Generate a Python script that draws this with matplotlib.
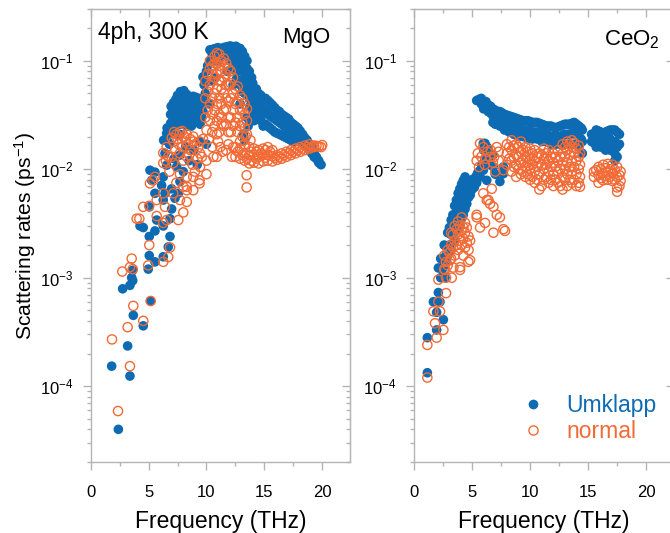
import matplotlib
matplotlib.use("Agg")
import matplotlib.pyplot as plt
from matplotlib.ticker import MultipleLocator, LogLocator, NullFormatter, FixedLocator
from matplotlib.lines import Line2D

plt.rcParams['font.family'] = ['Liberation Sans', 'DejaVu Sans']
plt.rcParams['mathtext.fontset'] = 'custom'
plt.rcParams['mathtext.rm'] = 'Liberation Sans'
plt.rcParams['mathtext.it'] = 'Liberation Sans:italic'
plt.rcParams['mathtext.default'] = 'regular'

BLUE = '#0C6BB2'
ORANGE = '#F26A35'
GRAY = '#B4B4B4'

# ---------------- data (frequency THz, rate 1/ps) ----------------
mgo_umklapp = [
    (1.81, 1.53e-4), (2.39, 4.0e-5), (2.76, 7.9e-4), (3.19, 2.35e-4), (3.39, 1.24e-4), (3.39, 8.5e-4),
    (3.63, 9.4e-4), (3.63, 1.17e-3), (3.68, 4.5e-4), (4.54, 3.6e-4), (4.97, 1.2e-3), (5.18, 6.1e-4),
    (5.55, 1.4e-3), (3.54, 1.0e-3), (5.06, 1.6e-3), (6.27, 1.56e-3), (6.70, 1.92e-3), (6.85, 2.4e-3),
    (5.06, 2.4e-3), (5.55, 2.7e-3), (6.27, 3.0e-3), (4.26, 3.0e-3), (4.54, 2.9e-3), (5.70, 3.4e-3),
    (6.85, 3.5e-3), (5.06, 4.5e-3), (6.99, 4.3e-3), (6.27, 5.2e-3), (7.28, 5.4e-3), (5.55, 6.0e-3),
    (6.42, 6.0e-3), (7.57, 6.0e-3), (6.13, 7.1e-3), (6.99, 6.6e-3), (5.27, 7.9e-3), (5.55, 9.4e-3),
    (6.27, 8.5e-3), (7.71, 7.7e-3), (6.56, 1.09e-2), (7.43, 1.05e-2), (7.71, 1.35e-2), (6.42, 1.4e-2),
    (5.12, 9.8e-3), (6.56, 2.14e-2), (6.99, 2.14e-2), (7.13, 2.46e-2), (7.71, 2.1e-2), (8.2, 1.6e-2),
    (8.9, 1.5e-2), (9.4, 1.8e-2), (10.0, 1.7e-2), (8.5, 1.2e-2), (9.2, 1.1e-2), (6.3, 1.85e-2),
    (6.8, 1.7e-2), (7.2, 1.25e-2), (8.0, 9.5e-3), (6.6, 2.4e-2), (6.6, 1.85e-2), (6.9, 2.2e-2),
    (6.9, 2.65e-2), (6.9, 3.2e-2), (6.95, 3.8e-2), (7.3, 2.8e-2), (7.3, 3.5e-2), (7.35, 4.4e-2),
    (7.7, 2.6e-2), (7.7, 3.3e-2), (7.7, 4.2e-2), (7.75, 5.2e-2), (8.1, 2.7e-2), (8.1, 3.4e-2),
    (8.1, 4.3e-2), (8.05, 5.3e-2), (8.5, 2.8e-2), (8.5, 3.6e-2), (8.5, 4.6e-2), (8.9, 2.7e-2),
    (8.9, 3.4e-2), (8.9, 4.3e-2), (8.85, 4.7e-2), (9.3, 2.8e-2), (9.3, 3.6e-2), (9.3, 4.5e-2),
    (9.6, 3.0e-2), (9.6, 3.8e-2), (9.5, 4.3e-2), (7.1, 3.0e-2), (7.5, 3.1e-2), (7.5, 3.9e-2),
    (7.5, 4.8e-2), (7.9, 2.9e-2), (7.9, 3.7e-2), (7.9, 4.7e-2), (8.3, 3.1e-2), (8.3, 3.9e-2),
    (8.3, 4.9e-2), (8.7, 3.1e-2), (8.7, 3.9e-2), (8.7, 4.5e-2), (9.1, 3.1e-2), (9.1, 3.9e-2),
    (9.1, 4.6e-2), (9.45, 3.3e-2), (9.45, 2.6e-2), (8.7, 2.5e-2), (8.3, 2.5e-2), (9.7, 3.4e-2),
    (9.8, 4.5e-2), (7.1, 3.5e-2), (7.15, 4.1e-2),
    (9.7, 7.1e-2), (9.9, 5.0e-2), (10.0, 8.0e-2), (10.3, 1.26e-1), (10.3, 1.0e-1), (10.3, 6.5e-2),
    (10.3, 4.0e-2), (10.8, 1.3e-1), (10.8, 1.0e-1), (10.8, 7.0e-2), (11.3, 1.3e-1), (11.3, 1.1e-1),
    (11.8, 1.35e-1), (11.8, 1.1e-1), (11.8, 8.0e-2), (12.3, 1.35e-1), (12.3, 1.15e-1), (12.3, 9.0e-2),
    (12.3, 6.0e-2), (12.9, 1.3e-1), (12.9, 1.1e-1), (12.9, 8.5e-2), (12.9, 6.0e-2), (12.9, 4.0e-2),
    (13.3, 1.1e-1), (13.3, 9.0e-2), (13.3, 7.0e-2), (13.3, 5.0e-2), (13.7, 8.0e-2), (13.7, 6.0e-2),
    (13.7, 4.5e-2), (14.0, 6.2e-2), (13.5, 5.4e-2), (13.75, 3.8e-2), (13.5, 3.0e-2), (13.2, 2.1e-2),
    (13.3, 1.85e-2), (13.6, 2.5e-2), (10.5, 1.15e-1), (10.6, 1.28e-1), (11.0, 1.32e-1), (11.0, 1.15e-1),
    (11.55, 1.33e-1), (11.55, 1.2e-1), (12.05, 1.37e-1), (12.05, 1.22e-1), (12.05, 1.0e-1),
    (12.55, 1.36e-1), (12.55, 1.22e-1), (12.55, 1.02e-1), (12.55, 8.0e-2), (12.6, 6.8e-2),
    (13.1, 1.22e-1), (13.1, 1.0e-1), (13.1, 8.0e-2), (13.1, 6.5e-2), (13.1, 5.2e-2), (13.5, 1.0e-1),
    (13.5, 8.5e-2), (13.5, 6.5e-2), (13.9, 7.0e-2), (13.9, 5.5e-2), (14.1, 5.0e-2), (12.9, 9.5e-2),
    (13.3, 1.0e-1), (13.7, 7.0e-2), (12.7, 1.15e-1), (11.05, 1.0e-1), (9.8, 6.0e-2), (10.05, 6.5e-2),
    (10.1, 9.0e-2),
    (14.3, 5.5e-2), (14.3, 4.2e-2), (14.3, 3.2e-2), (14.7, 4.8e-2), (14.7, 3.8e-2), (14.7, 2.8e-2),
    (15.1, 4.5e-2), (15.1, 3.5e-2), (15.1, 2.6e-2), (15.5, 4.1e-2), (15.5, 3.1e-2), (15.5, 2.4e-2),
    (15.9, 3.7e-2), (15.9, 2.9e-2), (15.9, 2.2e-2), (16.3, 3.4e-2), (16.3, 2.7e-2), (16.3, 2.1e-2),
    (16.7, 3.1e-2), (16.7, 2.5e-2), (16.7, 2.0e-2), (17.1, 2.9e-2), (17.1, 2.3e-2), (17.1, 1.9e-2),
    (17.5, 2.6e-2), (17.5, 2.1e-2), (17.5, 1.8e-2), (17.9, 2.4e-2), (17.9, 1.9e-2), (18.3, 2.1e-2),
    (18.3, 1.7e-2), (18.7, 1.85e-2), (18.7, 1.6e-2), (19.1, 1.6e-2), (19.1, 1.4e-2), (19.5, 1.3e-2),
    (19.5, 1.25e-2), (19.9, 1.1e-2), (14.5, 5.0e-2), (14.5, 3.7e-2), (14.5, 3.0e-2), (14.9, 4.2e-2),
    (14.9, 3.2e-2), (14.9, 2.5e-2), (15.3, 4.3e-2), (15.3, 3.3e-2), (15.3, 2.5e-2), (15.7, 3.9e-2),
    (15.7, 3.0e-2), (15.7, 2.3e-2), (16.1, 3.5e-2), (16.1, 2.8e-2), (16.1, 2.15e-2), (16.5, 3.2e-2),
    (16.5, 2.6e-2), (16.5, 2.05e-2), (16.9, 3.0e-2), (16.9, 2.4e-2), (16.9, 1.95e-2), (17.3, 2.7e-2),
    (17.3, 2.2e-2), (17.3, 1.85e-2), (17.7, 2.5e-2), (17.7, 2.0e-2), (18.1, 2.25e-2), (18.1, 1.8e-2),
    (18.5, 1.95e-2), (18.5, 1.65e-2), (18.9, 1.7e-2), (18.9, 1.5e-2), (19.3, 1.45e-2), (19.3, 1.3e-2),
    (19.7, 1.2e-2), (19.7, 1.15e-2), (14.3, 3.7e-2), (14.0, 3.3e-2), (14.1, 2.8e-2),
]

mgo_normal = [
    (1.84, 2.7e-4), (2.36, 5.9e-5), (2.73, 1.14e-3), (3.19, 3.5e-4), (3.39, 1.53e-4), (3.39, 1.25e-3),
    (3.68, 5.5e-4), (3.63, 1.2e-3), (4.54, 4.0e-4), (4.97, 1.3e-3), (5.18, 6.1e-4), (6.27, 1.4e-3),
    (3.54, 1.5e-3), (4.2, 3.5e-3), (5.06, 4.6e-3), (5.7, 3.7e-3), (5.06, 2.0e-3), (6.85, 1.9e-3),
    (6.7, 1.55e-3), (6.56, 3.4e-3), (7.57, 3.4e-3), (8.0, 4.0e-3), (8.3, 5.0e-3), (7.71, 5.2e-3),
    (6.27, 6.0e-3), (8.3, 6.9e-3), (8.86, 6.4e-3), (5.55, 8.5e-3), (5.12, 7.4e-3), (6.27, 1.14e-2),
    (9.4, 7.9e-3), (6.27, 3.2e-3), (6.42, 4.5e-3), (7.13, 6.0e-3), (8.0, 6.9e-3), (8.3, 8.5e-3),
    (9.44, 1.05e-2), (10.0, 1.2e-2), (3.97, 3.5e-3), (4.54, 4.5e-3), (5.4, 7.9e-3), (5.7, 5.2e-3),
    (6.27, 1.41e-2), (6.56, 1.6e-2), (7.13, 1.8e-2), (7.71, 2.2e-2), (8.3, 2.1e-2), (8.86, 2.0e-2),
    (9.44, 1.8e-2), (10.0, 2.3e-2), (10.9, 2.1e-2), (7.13, 1.14e-2), (8.3, 1.3e-2), (9.44, 1.4e-2),
    (7.71, 9.0e-3), (8.86, 8.5e-3), (8.3, 6.4e-3), (9.4, 7.4e-3), (10.0, 9.0e-3), (10.6, 1.3e-2),
    (11.7, 1.5e-2), (12.3, 1.6e-2), (11.2, 1.6e-2), (7.5, 1.9e-2), (7.9, 1.6e-2), (8.2, 1.8e-2),
    (8.6, 1.5e-2), (9.0, 1.7e-2), (7.3, 1.5e-2), (8.0, 1.2e-2), (8.8, 1.1e-2), (9.6, 1.3e-2),
    (7.0, 1.3e-2), (6.8, 9.5e-3), (7.4, 7.5e-3), (9.0, 9.5e-3), (7.9, 2.25e-2), (8.6, 1.9e-2),
    (7.6, 1.7e-2), (10.9, 1.3e-2), (11.4, 1.45e-2), (11.9, 1.7e-2), (12.2, 1.3e-2), (10.5, 1.6e-2),
    (11.0, 1.8e-2), (10.2, 1.9e-2), (7.4, 2.1e-2), (8.1, 2.0e-2), (8.4, 1.7e-2), (8.9, 1.8e-2),
    (9.3, 1.6e-2), (9.7, 1.9e-2), (7.7, 1.4e-2), (8.5, 1.35e-2), (9.2, 1.25e-2), (7.2, 2.2e-2),
    (7.0, 1.95e-2), (6.7, 1.3e-2), (6.5, 1.2e-2),
    (9.9, 3.0e-2), (9.9, 4.5e-2), (9.9, 6.5e-2), (10.3, 2.8e-2), (10.3, 4.0e-2), (10.3, 6.0e-2),
    (10.3, 8.5e-2), (10.3, 1.0e-1), (10.7, 2.5e-2), (10.7, 3.5e-2), (10.7, 5.0e-2), (10.7, 7.0e-2),
    (10.7, 9.5e-2), (10.7, 1.1e-1), (11.1, 2.2e-2), (11.1, 3.2e-2), (11.1, 4.5e-2), (11.1, 6.5e-2),
    (11.1, 9.0e-2), (11.1, 1.15e-1), (11.5, 2.5e-2), (11.5, 3.5e-2), (11.5, 5.0e-2), (11.5, 7.0e-2),
    (11.5, 9.0e-2), (11.5, 1.05e-1), (11.9, 2.2e-2), (11.9, 3.0e-2), (11.9, 4.2e-2), (11.9, 6.0e-2),
    (11.9, 8.5e-2), (12.3, 2.5e-2), (12.3, 3.5e-2), (12.3, 5.0e-2), (12.3, 7.0e-2), (12.7, 2.2e-2),
    (12.7, 3.0e-2), (12.7, 4.2e-2), (12.7, 5.8e-2), (13.1, 2.0e-2), (13.1, 2.7e-2), (13.1, 3.6e-2),
    (13.1, 4.5e-2), (13.5, 2.1e-2), (13.5, 2.8e-2), (13.5, 3.6e-2), (10.5, 7.5e-2), (10.9, 5.5e-2),
    (11.3, 8.0e-2), (11.7, 6.0e-2), (11.3, 4.0e-2), (12.1, 4.5e-2), (10.9, 1.18e-1), (11.3, 1.0e-1),
    (10.1, 3.5e-2), (10.1, 5.2e-2), (10.1, 7.5e-2), (10.5, 3.2e-2), (10.5, 4.5e-2), (10.5, 6.5e-2),
    (10.5, 9.0e-2), (10.5, 2.2e-2), (10.9, 2.8e-2), (10.9, 4.0e-2), (10.9, 7.5e-2), (10.9, 9.5e-2),
    (11.3, 2.6e-2), (11.3, 3.0e-2), (11.3, 5.5e-2), (11.3, 6.5e-2), (11.7, 2.6e-2), (11.7, 3.6e-2),
    (11.7, 4.5e-2), (11.7, 7.5e-2), (11.7, 9.5e-2), (12.1, 2.2e-2), (12.1, 3.0e-2), (12.1, 6.2e-2),
    (12.1, 8.0e-2), (12.5, 2.7e-2), (12.5, 4.0e-2), (12.5, 5.5e-2), (12.9, 2.5e-2), (12.9, 3.5e-2),
    (12.9, 4.8e-2), (13.3, 2.4e-2), (13.3, 3.2e-2), (13.3, 4.0e-2),
    (12.5, 1.3e-2), (12.5, 1.6e-2), (12.9, 1.25e-2), (12.9, 1.55e-2), (12.9, 1.8e-2), (13.3, 1.2e-2),
    (13.3, 1.4e-2), (13.3, 1.7e-2), (13.47, 8.8e-3), (13.47, 6.8e-3), (13.7, 1.13e-2), (13.7, 1.35e-2),
    (13.7, 1.6e-2), (14.1, 1.15e-2), (14.1, 1.35e-2), (14.1, 1.55e-2), (14.5, 1.13e-2), (14.5, 1.3e-2),
    (14.5, 1.5e-2), (14.9, 1.18e-2), (14.9, 1.35e-2), (14.9, 1.55e-2), (15.3, 1.2e-2), (15.3, 1.35e-2),
    (15.3, 1.6e-2), (15.7, 1.18e-2), (15.7, 1.32e-2), (15.7, 1.5e-2), (16.1, 1.22e-2), (16.1, 1.35e-2),
    (16.5, 1.25e-2), (16.5, 1.4e-2), (16.9, 1.3e-2), (16.9, 1.45e-2), (17.3, 1.35e-2), (17.3, 1.5e-2),
    (17.7, 1.4e-2), (17.7, 1.55e-2), (18.1, 1.45e-2), (18.1, 1.6e-2), (18.5, 1.5e-2), (18.5, 1.65e-2),
    (18.9, 1.55e-2), (18.9, 1.7e-2), (19.3, 1.6e-2), (19.3, 1.65e-2), (19.7, 1.62e-2), (20.0, 1.67e-2),
    (13.4, 2.0e-2), (13.8, 1.85e-2), (12.7, 1.45e-2), (13.1, 1.35e-2), (13.5, 1.25e-2), (13.9, 1.45e-2),
    (14.3, 1.25e-2), (14.7, 1.4e-2), (15.1, 1.28e-2), (15.5, 1.45e-2), (15.9, 1.28e-2), (16.3, 1.3e-2),
    (16.7, 1.35e-2), (17.1, 1.4e-2), (17.5, 1.45e-2), (17.9, 1.5e-2), (18.3, 1.55e-2), (18.7, 1.6e-2),
    (19.1, 1.62e-2), (19.5, 1.64e-2), (19.9, 1.6e-2), (14.3, 1.45e-2), (15.1, 1.5e-2), (13.9, 1.2e-2),
]

ceo2_umklapp = [
    (1.15, 2.8e-4), (1.15, 1.33e-4), (1.95, 3.3e-4), (2.53, 4.1e-4), (1.67, 6.0e-4), (2.1, 7.3e-4),
    (2.24, 6.0e-4), (1.95, 4.8e-4), (2.1, 1.23e-3), (2.67, 1.0e-3), (2.82, 1.4e-3),
    (2.3, 1.0e-3), (2.3, 1.5e-3), (2.6, 1.3e-3), (2.6, 2.0e-3), (2.9, 1.6e-3), (2.9, 2.6e-3),
    (3.2, 1.8e-3), (3.2, 2.5e-3), (3.2, 3.4e-3), (3.5, 2.2e-3), (3.5, 3.2e-3), (3.5, 4.6e-3),
    (3.8, 2.8e-3), (3.8, 4.0e-3), (3.8, 6.0e-3), (4.1, 3.5e-3), (4.1, 5.0e-3), (4.1, 7.3e-3),
    (4.4, 4.3e-3), (4.4, 6.2e-3), (4.4, 8.5e-3), (4.7, 5.5e-3), (4.7, 7.0e-3), (5.0, 6.5e-3),
    (5.0, 8.0e-3), (5.4, 7.5e-3), (5.4, 8.8e-3), (5.7, 8.5e-3), (5.7, 9.8e-3),
    (2.45, 1.2e-3), (2.75, 1.6e-3), (3.05, 2.0e-3), (3.05, 2.9e-3), (3.35, 2.6e-3), (3.35, 3.8e-3),
    (3.65, 3.4e-3), (3.65, 5.2e-3), (3.95, 4.3e-3), (3.95, 6.6e-3), (4.25, 5.6e-3), (4.25, 7.9e-3),
    (4.55, 6.6e-3), (4.85, 7.5e-3), (5.2, 8.2e-3), (3.95, 3.0e-3), (4.25, 3.8e-3), (4.55, 4.8e-3),
    (4.85, 5.8e-3), (5.2, 6.8e-3), (5.5, 9.3e-3), (5.85, 1.1e-2), (6.1, 1.25e-2), (6.4, 1.45e-2),
    (5.97, 9.8e-3), (6.27, 1.3e-2), (5.97, 1.73e-2), (6.27, 7.9e-3), (7.4, 7.7e-3), (7.7, 9.1e-3),
    (6.0, 1.5e-2), (6.5, 1.1e-2), (7.0, 9.0e-3), (6.12, 1.73e-2), (6.55, 1.3e-2), (6.84, 1.05e-2),
    (7.7, 1.05e-2), (6.3, 1.6e-2), (6.8, 1.35e-2),
    (5.4, 4.3e-2), (5.8, 4.5e-2), (5.8, 4.0e-2), (6.2, 4.2e-2), (6.2, 3.7e-2), (6.6, 3.8e-2),
    (6.6, 3.3e-2), (7.0, 3.5e-2), (7.0, 3.0e-2), (7.0, 2.6e-2), (7.4, 3.4e-2), (7.4, 2.9e-2),
    (7.4, 2.5e-2), (7.8, 3.2e-2), (7.8, 2.7e-2), (7.8, 2.3e-2), (8.2, 3.1e-2), (8.2, 2.6e-2),
    (8.2, 2.2e-2), (8.6, 3.0e-2), (8.6, 2.5e-2), (8.6, 2.1e-2), (9.0, 2.9e-2), (9.0, 2.4e-2),
    (9.0, 2.0e-2), (9.4, 2.8e-2), (9.4, 2.3e-2), (9.4, 2.0e-2), (9.8, 2.8e-2), (9.8, 2.3e-2),
    (9.8, 1.9e-2), (10.2, 2.7e-2), (10.2, 2.2e-2), (10.2, 1.9e-2), (10.6, 2.7e-2), (10.6, 2.2e-2),
    (10.6, 1.9e-2), (11.0, 2.6e-2), (11.0, 2.1e-2), (11.0, 1.8e-2), (11.4, 2.5e-2), (11.4, 2.1e-2),
    (11.4, 1.8e-2), (11.8, 2.5e-2), (11.8, 2.0e-2), (11.8, 1.7e-2), (12.2, 2.4e-2), (12.2, 2.0e-2),
    (12.2, 1.7e-2), (12.6, 2.5e-2), (12.6, 2.0e-2), (12.6, 1.7e-2), (13.0, 2.6e-2), (13.0, 2.1e-2),
    (13.0, 1.7e-2), (13.4, 2.6e-2), (13.4, 2.1e-2), (13.4, 1.7e-2), (13.8, 2.7e-2), (13.8, 2.2e-2),
    (13.8, 1.7e-2), (14.2, 2.5e-2), (14.2, 2.0e-2), (14.2, 1.6e-2), (14.5, 2.3e-2), (14.5, 1.8e-2),
    (14.5, 1.4e-2),
    (5.6, 4.4e-2), (6.0, 4.1e-2), (6.0, 3.6e-2), (6.4, 3.9e-2), (6.4, 3.4e-2), (6.8, 3.6e-2),
    (6.8, 3.1e-2), (6.8, 2.7e-2), (7.2, 3.4e-2), (7.2, 2.9e-2), (7.6, 3.3e-2), (7.6, 2.75e-2),
    (8.0, 3.15e-2), (8.0, 2.6e-2), (8.4, 3.05e-2), (8.4, 2.5e-2), (8.8, 2.95e-2), (8.8, 2.45e-2),
    (9.2, 2.85e-2), (9.2, 2.35e-2), (9.6, 2.8e-2), (9.6, 2.3e-2), (10.0, 2.75e-2), (10.0, 2.25e-2),
    (10.4, 2.7e-2), (10.4, 2.2e-2), (10.8, 2.65e-2), (10.8, 2.15e-2), (11.2, 2.55e-2), (11.2, 2.1e-2),
    (11.6, 2.5e-2), (11.6, 2.05e-2), (12.0, 2.45e-2), (12.0, 2.0e-2), (12.4, 2.45e-2), (12.4, 2.0e-2),
    (12.8, 2.55e-2), (12.8, 2.05e-2), (13.2, 2.6e-2), (13.2, 2.1e-2), (13.6, 2.65e-2), (13.6, 2.15e-2),
    (14.0, 2.6e-2), (14.0, 2.1e-2), (14.4, 2.4e-2), (14.4, 1.9e-2),
    (15.3, 2.1e-2), (15.3, 1.8e-2), (15.7, 2.3e-2), (15.7, 1.9e-2), (15.7, 1.6e-2), (16.1, 2.2e-2),
    (16.1, 1.9e-2), (16.1, 1.6e-2), (16.5, 2.2e-2), (16.5, 1.9e-2), (16.5, 1.5e-2), (16.9, 2.3e-2),
    (16.9, 1.9e-2), (16.9, 1.5e-2), (17.3, 2.3e-2), (17.3, 1.8e-2), (17.3, 1.4e-2), (17.3, 1.2e-2),
    (17.7, 2.1e-2), (17.7, 1.7e-2), (15.5, 2.05e-2), (15.5, 1.75e-2), (15.9, 2.25e-2), (15.9, 1.75e-2),
    (16.3, 2.1e-2), (16.3, 1.75e-2), (16.7, 2.25e-2), (16.7, 1.7e-2), (17.1, 2.3e-2), (17.1, 1.65e-2),
    (17.5, 2.2e-2), (17.5, 1.6e-2), (17.5, 1.3e-2),
]

ceo2_normal = [
    (1.15, 2.4e-4), (1.15, 1.2e-4), (1.95, 2.8e-4), (1.81, 3.8e-4), (2.53, 3.3e-4), (1.67, 4.9e-4),
    (2.1, 6.0e-4), (2.24, 4.9e-4), (2.76, 7.2e-4), (2.1, 9.6e-4), (2.76, 1.0e-3), (3.25, 1.0e-3),
    (3.39, 1.24e-3), (3.97, 1.25e-3), (4.68, 1.4e-3), (2.67, 1.18e-3),
    (2.6, 1.2e-3), (2.6, 1.6e-3), (2.9, 1.3e-3), (2.9, 1.8e-3), (3.2, 1.5e-3), (3.2, 2.0e-3),
    (3.2, 2.6e-3), (3.5, 1.6e-3), (3.5, 2.2e-3), (3.5, 3.0e-3), (3.8, 1.8e-3), (3.8, 2.5e-3),
    (3.8, 3.3e-3), (4.1, 2.0e-3), (4.1, 2.7e-3), (4.1, 3.6e-3), (4.4, 1.9e-3), (4.4, 2.6e-3),
    (4.4, 3.2e-3), (4.7, 1.8e-3), (4.7, 2.4e-3), (3.68, 2.8e-3), (4.25, 2.9e-3), (4.83, 1.45e-3),
    (3.1, 1.45e-3), (3.97, 1.18e-3), (4.83, 2.2e-3), (2.75, 1.4e-3), (3.05, 1.7e-3), (3.35, 1.9e-3),
    (3.35, 2.5e-3), (3.65, 2.0e-3), (3.95, 2.2e-3), (3.95, 3.0e-3), (4.25, 2.3e-3), (4.55, 2.1e-3),
    (4.55, 2.9e-3), (4.25, 1.6e-3),
    (5.4, 3.8e-3), (5.97, 6.0e-3), (6.55, 4.8e-3), (7.13, 3.8e-3), (7.84, 2.7e-3), (7.4, 3.6e-3),
    (6.12, 3.2e-3), (5.69, 2.9e-3), (6.7, 6.6e-3), (6.41, 5.2e-3), (6.27, 5.2e-3), (6.84, 4.5e-3),
    (7.7, 2.8e-3), (5.4, 3.6e-3), (6.84, 2.6e-3),
    (5.97, 1.6e-2), (5.4, 1.2e-2), (5.69, 1.73e-2), (6.55, 1.3e-2), (7.13, 1.6e-2), (7.7, 9.8e-3),
    (6.1, 1.1e-2), (6.8, 1.15e-2), (5.5, 1.4e-2), (6.3, 1.45e-2), (7.0, 9.5e-3), (5.8, 1.3e-2),
    (6.2, 1.25e-2), (6.6, 1.5e-2), (6.9, 1.3e-2), (7.3, 1.2e-2), (7.3, 1.45e-2), (5.6, 1.05e-2),
    (8.0, 1.1e-2), (8.0, 1.4e-2), (8.0, 1.7e-2), (8.4, 9.5e-3), (8.4, 1.2e-2), (8.4, 1.5e-2),
    (8.4, 1.85e-2), (8.8, 8.5e-3), (8.8, 1.1e-2), (8.8, 1.35e-2), (8.8, 1.7e-2), (9.2, 9.0e-3),
    (9.2, 1.15e-2), (9.2, 1.45e-2), (9.2, 1.8e-2), (9.6, 8.5e-3), (9.6, 1.05e-2), (9.6, 1.3e-2),
    (9.6, 1.6e-2), (10.0, 8.0e-3), (10.0, 1.0e-2), (10.0, 1.25e-2), (10.0, 1.55e-2), (10.4, 7.5e-3),
    (10.4, 9.5e-3), (10.4, 1.2e-2), (10.4, 1.5e-2), (10.8, 6.5e-3), (10.8, 9.0e-3), (10.8, 1.15e-2),
    (10.8, 1.4e-2), (11.2, 8.0e-3), (11.2, 1.0e-2), (11.2, 1.25e-2), (11.2, 1.55e-2), (11.6, 7.5e-3),
    (11.6, 9.5e-3), (11.6, 1.2e-2), (11.6, 1.5e-2), (12.0, 7.0e-3), (12.0, 9.0e-3), (12.0, 1.15e-2),
    (12.0, 1.4e-2), (12.4, 7.5e-3), (12.4, 9.5e-3), (12.4, 1.2e-2), (12.4, 1.5e-2), (12.8, 6.5e-3),
    (12.8, 8.5e-3), (12.8, 1.1e-2), (12.8, 1.4e-2), (12.8, 1.7e-2), (13.2, 7.0e-3), (13.2, 9.0e-3),
    (13.2, 1.15e-2), (13.2, 1.5e-2), (13.2, 1.8e-2), (13.6, 7.5e-3), (13.6, 9.5e-3), (13.6, 1.2e-2),
    (13.6, 1.6e-2), (13.6, 1.85e-2), (14.0, 7.0e-3), (14.0, 9.0e-3), (14.0, 1.2e-2), (14.0, 1.55e-2),
    (14.3, 6.9e-3), (14.3, 8.5e-3), (14.3, 1.1e-2), (14.3, 1.4e-2),
    (8.2, 1.25e-2), (8.2, 1.6e-2), (8.6, 1.05e-2), (8.6, 1.3e-2), (8.6, 1.65e-2), (9.0, 1.0e-2),
    (9.0, 1.3e-2), (9.0, 1.6e-2), (9.4, 9.5e-3), (9.4, 1.2e-2), (9.4, 1.5e-2), (9.8, 9.0e-3),
    (9.8, 1.15e-2), (9.8, 1.45e-2), (10.2, 8.5e-3), (10.2, 1.1e-2), (10.2, 1.4e-2), (10.6, 8.0e-3),
    (10.6, 1.05e-2), (10.6, 1.3e-2), (11.0, 7.0e-3), (11.0, 1.1e-2), (11.0, 1.35e-2), (11.4, 8.5e-3),
    (11.4, 1.1e-2), (11.4, 1.4e-2), (11.8, 8.0e-3), (11.8, 1.05e-2), (11.8, 1.3e-2), (12.2, 8.0e-3),
    (12.2, 1.05e-2), (12.2, 1.3e-2), (12.6, 7.0e-3), (12.6, 1.0e-2), (12.6, 1.3e-2), (13.0, 8.0e-3),
    (13.0, 1.0e-2), (13.0, 1.3e-2), (13.0, 1.6e-2), (13.4, 8.0e-3), (13.4, 1.05e-2), (13.4, 1.35e-2),
    (13.4, 1.7e-2), (13.8, 8.0e-3), (13.8, 1.05e-2), (13.8, 1.4e-2), (13.8, 1.75e-2), (14.2, 7.5e-3),
    (14.2, 1.0e-2), (14.2, 1.3e-2), (14.2, 1.65e-2),
    (15.5, 9.5e-3), (15.5, 8.5e-3), (15.9, 1.05e-2), (15.9, 8.8e-3), (15.9, 7.5e-3), (16.3, 1.1e-2),
    (16.3, 9.2e-3), (16.3, 7.9e-3), (16.7, 1.12e-2), (16.7, 9.5e-3), (16.7, 8.0e-3), (17.1, 1.1e-2),
    (17.1, 9.2e-3), (17.1, 7.8e-3), (17.5, 1.05e-2), (17.5, 8.5e-3), (17.5, 6.8e-3), (17.5, 6.2e-3),
    (17.8, 9.5e-3), (17.8, 7.8e-3), (15.7, 9.8e-3), (16.1, 1.0e-2), (16.1, 8.3e-3), (16.5, 1.02e-2),
    (16.5, 8.6e-3), (16.9, 1.0e-2), (16.9, 8.5e-3), (17.3, 9.8e-3), (17.3, 8.0e-3), (17.7, 8.8e-3),
    (17.7, 7.0e-3),
]

series_labels = ['Umklapp', 'normal']
panel_names = ['MgO', 'CeO$_2$']
x_ticks = [0, 5, 10, 15, 20]
y_ticks = [1e-4, 1e-3, 1e-2, 1e-1]
y_ticklabels = ['$10^{-4}$', '$10^{-3}$', '$10^{-2}$', '$10^{-1}$']

# ---------------- figure ----------------
W, H = 670, 533
fig = plt.figure(figsize=(W / 100, H / 100), dpi=100)

axL = fig.add_axes([90.7 / W, 1 - 462 / H, 259.3 / W, 453 / H])
axR = fig.add_axes([414 / W, 1 - 462 / H, 260 / W, 453 / H])

panels = [(axL, mgo_umklapp, mgo_normal), (axR, ceo2_umklapp, ceo2_normal)]

for ax, umk, nor in panels:
    uf, ur = zip(*umk)
    nf, nr = zip(*nor)
    ax.scatter(uf, ur, s=48, color=BLUE, edgecolors='none', zorder=2)
    ax.scatter(nf, nr, s=44, facecolors='none', edgecolors=ORANGE, linewidths=1.0, zorder=3)
    ax.set_yscale('log')
    ax.set_xlim(0, 22.4)
    ax.set_ylim(2e-5, 0.3)
    ax.xaxis.set_major_locator(FixedLocator(x_ticks))
    ax.xaxis.set_minor_locator(MultipleLocator(2.5))
    ax.yaxis.set_major_locator(FixedLocator(y_ticks))
    ax.set_yticklabels(y_ticklabels)
    ax.yaxis.set_minor_locator(LogLocator(base=10, subs=range(2, 10)))
    ax.yaxis.set_minor_formatter(NullFormatter())
    for sp in ax.spines.values():
        sp.set_color(GRAY)
        sp.set_linewidth(1.0)
    ax.tick_params(which='major', direction='out', length=5.8, width=1.0, color=GRAY,
                   labelsize=12, labelcolor='black')
    ax.tick_params(which='minor', direction='out', length=3, width=1.0, color=GRAY)
    ax.tick_params(axis='x', which='major', pad=11)
    ax.tick_params(axis='y', which='major', pad=6.5)
    ax.set_xlabel('Frequency (THz)', fontsize=16.5)
    ax.xaxis.set_label_coords(0.5, -0.106)

    secx = ax.secondary_xaxis('top')
    secx.xaxis.set_major_locator(FixedLocator(x_ticks))
    secx.xaxis.set_minor_locator(MultipleLocator(2.5))
    secx.tick_params(which='major', direction='in', length=5.8, width=1.0, color=GRAY, labeltop=False)
    secx.tick_params(which='minor', direction='in', length=3, width=1.0, color=GRAY)
    for sp in secx.spines.values():
        sp.set_color(GRAY)

    secy = ax.secondary_yaxis('right')
    secy.yaxis.set_major_locator(FixedLocator(y_ticks))
    secy.yaxis.set_minor_locator(LogLocator(base=10, subs=range(2, 10)))
    secy.yaxis.set_minor_formatter(NullFormatter())
    secy.tick_params(which='major', direction='in', length=5.8, width=1.0, color=GRAY, labelright=False)
    secy.tick_params(which='minor', direction='in', length=3, width=1.0, color=GRAY)
    for sp in secy.spines.values():
        sp.set_color(GRAY)

axL.set_ylabel('Scattering rates (ps$^{-1}$)', fontsize=15.2)
axL.yaxis.set_label_coords(-0.205, 0.5)

axL.text(0.029, 0.934, '4ph, 300 K', transform=axL.transAxes, fontsize=16.5,
         ha='left', va='baseline')
axL.text(0.923, 0.9256, panel_names[0], transform=axL.transAxes, fontsize=16,
         ha='right', va='baseline')
axR.text(0.946, 0.9205, panel_names[1], transform=axR.transAxes, fontsize=16,
         ha='right', va='baseline')

handles = [
    Line2D([], [], linestyle='none', marker='o', markersize=7, markerfacecolor=BLUE,
           markeredgecolor='none'),
    Line2D([], [], linestyle='none', marker='o', markersize=6.6, markerfacecolor='none',
           markeredgecolor=ORANGE, markeredgewidth=1.0),
]
axR.legend(handles, series_labels, loc='upper left', bbox_to_anchor=(521.2 / W, 1 - 394 / H),
           bbox_transform=fig.transFigure, frameon=False, fontsize=16.5, borderpad=0,
           handlelength=1.0, handletextpad=0.98, labelspacing=0.15, borderaxespad=0,
           labelcolor=[BLUE, ORANGE])

fig.savefig('out.png', dpi=100)
